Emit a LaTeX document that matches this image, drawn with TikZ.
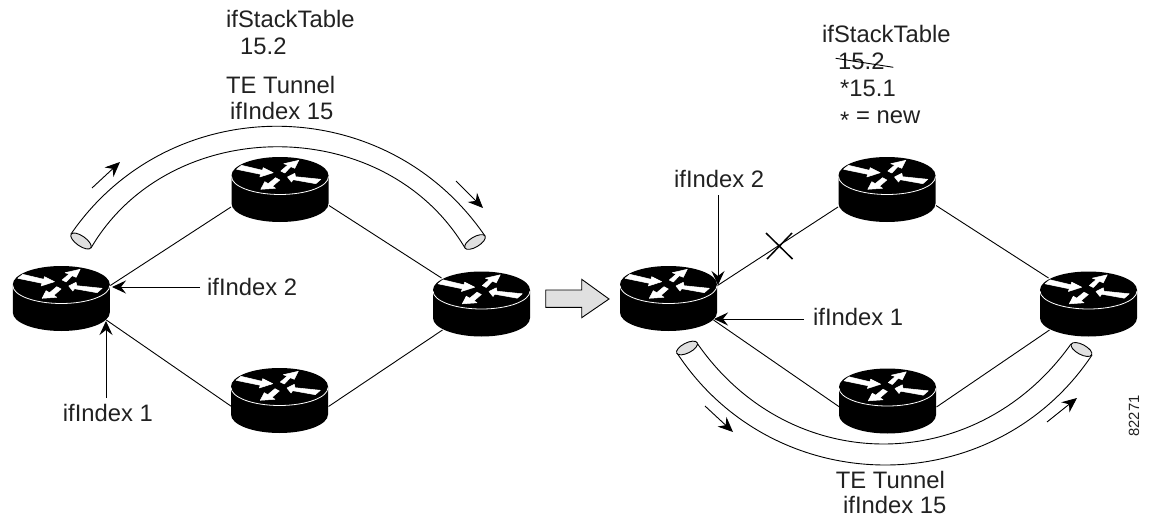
\documentclass[tikz,border=0pt]{standalone}
\usepackage{fontspec}
\setmainfont{Liberation Sans}
\usetikzlibrary{arrows.meta,calc}
\definecolor{ink}{gray}{0.13}
\definecolor{tubeend}{gray}{0.88}
\definecolor{blockgray}{gray}{0.88}
\tikzset{
  x=1pt,y=-1pt,
  lbl/.style={font=\fontsize{23.8}{26}\selectfont,text=ink,inner sep=0pt,anchor=base west},
  link/.style={line width=0.9pt,black},
  callout/.style={line width=0.9pt,black,-{Stealth[length=14pt,width=13pt,inset=5pt]}},
  flow/.style={line width=0.9pt,black,-{Stealth[length=15pt,width=13pt,inset=5pt]}},
  tube/.style={line width=0.9pt,black},
  tubemouth/.style={line width=0.9pt,black,fill=tubeend},
  iconarrow/.style={fill=white,draw=white,line width=0.5pt,line join=round},
  router/.pic={
    \coordinate (-ur) at (49,1);
    \coordinate (-lr) at (45,35.5);
    \coordinate (-ml) at (-49,31.5);
    \coordinate (-mr) at (49,30);
    \coordinate (-ul) at (-40,-12);
    \coordinate (-sl) at (-48,20);
    \coordinate (-sr) at (49,20);
    \coordinate (-ll) at (-39,40);
    \fill[black] (-48.5,0) arc[start angle=180,end angle=0,x radius=48.5,y radius=-18.5]
      -- (48.5,28) arc[start angle=0,end angle=-180,x radius=48.5,y radius=-18.5] -- cycle;
    \draw[white,line width=0.8pt] (-48.5,1) arc[start angle=180,end angle=360,x radius=48.5,y radius=-18];
    \path[iconarrow] (-43.5,-6.2) -- (-38.5,-10.2) -- (-17.5,-5.2) -- (-16.8,-7.8) -- (-6.8,-2.8) -- (-20.2,1.5) -- (-19.2,-1.2) -- cycle;
    \path[iconarrow] (0.8,-4.5) -- (4.8,-2.5) -- (10.8,-8.8) -- (14.8,-7.2) -- (18.8,-15.2) -- (3.8,-11.8) -- (7.8,-10.5) -- cycle;
    \path[iconarrow] (40.8,3.8) -- (35.8,8.2) -- (13.2,4.2) -- (11.5,6.5) -- (7.5,1.5) -- (14.8,-2.2) -- (15.5,1.2) -- cycle;
    \path[iconarrow] (-4.5,2.2) -- (-0.2,4.5) -- (-7.5,10.8) -- (-4.5,12.8) -- (-19.2,13.8) -- (-15.2,6.2) -- (-11.8,8.2) -- cycle;
  }
}
\begin{document}
\begin{tikzpicture}
\useasboundingbox (0,0) rectangle (1149,519);
\pic (A) at (61.3,284.5) {router};
\pic (B) at (280,175.5) {router};
\pic (C) at (279.5,386.5) {router};
\pic (D) at (481.5,290) {router};
\pic (E) at (668.5,284.5) {router};
\pic (F) at (887,175.5) {router};
\pic (G) at (887.5,387) {router};
\pic (H) at (1088.5,290) {router};
\draw[link] (A-ur) -- (B-ml);
\draw[link] (B-mr) -- (D-ul);
\draw[link] (A-lr) -- (C-sl);
\draw[link] (C-sr) -- (D-ll);
\draw[link] (E-ur) -- (F-ml);
\draw[link] (F-mr) -- (H-ul);
\draw[link] (E-lr) -- (G-sl);
\draw[link] (G-sr) -- (H-ll);
% tunnel left
\coordinate (t1a) at (71,234);\coordinate (t1b) at (91,248);
\coordinate (t1c) at (465,248);\coordinate (t1d) at (485,236);
\draw[tube] (t1a) .. controls (170,90) and (385,90) .. (t1d);
\draw[tube] (t1b) .. controls (170,113) and (385,113) .. (t1c);
\draw[tubemouth] (81,241) ellipse[x radius=12,y radius=5,rotate=-35];
\draw[tubemouth] (475,242) ellipse[x radius=11.7,y radius=5,rotate=31];
% tunnel right
\coordinate (t2a) at (677,353);\coordinate (t2b) at (697,343);
\coordinate (t2c) at (1071,344);\coordinate (t2d) at (1092,355);
\draw[tube] (t2a) .. controls (775,502) and (994,502) .. (t2d);
\draw[tube] (t2b) .. controls (790,477.5) and (976,477.5) .. (t2c);
\draw[tubemouth] (687,348) ellipse[x radius=11.5,y radius=5,rotate=27];
\draw[tubemouth] (1081.5,349.5) ellipse[x radius=11.5,y radius=5,rotate=-28];
% flow arrows
\coordinate (f1a) at (92,188);\coordinate (f1b) at (120,162);
\coordinate (f2a) at (456,181);\coordinate (f2b) at (483,208);
\coordinate (f3a) at (705,406);\coordinate (f3b) at (733,432);
\coordinate (f4a) at (1047,422);\coordinate (f4b) at (1077,398);
\draw[flow] (f1a) -- (f1b);\draw[flow] (f2a) -- (f2b);
\draw[flow] (f3a) -- (f3b);\draw[flow] (f4a) -- (f4b);
% block arrow
\draw[line width=0.9pt,fill=blockgray] (545.7,290) -- (581.7,290) -- (581.7,279.3) -- (609,299) -- (581.7,317.7) -- (581.7,307.3) -- (545.7,307.3) -- cycle;
% labels
\node[lbl] (l1) at (226,28) {ifStackTable};
\node[lbl] (l2) at (240,55) {15.2};
\node[lbl] (l3) at (226,94) {TE Tunnel};
\node[lbl] (l4) at (230,119.5) {ifIndex 15};
\node[lbl] (l5) at (207,295) {ifIndex 2};
\node[lbl] (l6) at (62.7,421) {ifIndex 1};
\coordinate (c1) at (200,287);\coordinate (c2) at (112,287);
\draw[callout] (c1) -- (c2);
\coordinate (c3) at (106,398);\coordinate (c4) at (106,321);
\draw[callout] (c3) -- (c4);
\node[lbl] (r1) at (822,43) {ifStackTable};
\node[lbl] (r2) at (838,69.5) {15.2};
\node[lbl] (r3) at (840,96.5) {*15.1};
\node[lbl] (r4) at (840,123.5) {\raisebox{-5pt}{*} = new};
\coordinate (s1) at (835.7,58.3);\coordinate (s2) at (893.3,67.3);
\draw[line width=0.9pt] (s1) -- (s2);
\node[lbl] (r5) at (674,187.7) {ifIndex 2};
\coordinate (c5) at (718,195);\coordinate (c6) at (718,285);
\draw[callout] (c5) -- (c6);
\node[lbl] (r6) at (813,325) {ifIndex 1};
\coordinate (c7) at (804,319);\coordinate (c8) at (714,319);
\draw[callout] (c7) -- (c8);
\coordinate (x1) at (766,233);\coordinate (x2) at (792.5,259);
\coordinate (x3) at (767,259);\coordinate (x4) at (792,233);
\draw[line width=1.5pt] (x1) -- (x2);\draw[line width=1.5pt] (x3) -- (x4);
\node[lbl] (r7) at (835.7,488) {TE Tunnel};
\node[lbl] (r8) at (843,513) {ifIndex 15};
\node[font=\fontsize{14.8}{16}\selectfont,text=ink,inner sep=0pt,rotate=90] (n) at (1134,416) {82271};
\end{tikzpicture}
\end{document}
